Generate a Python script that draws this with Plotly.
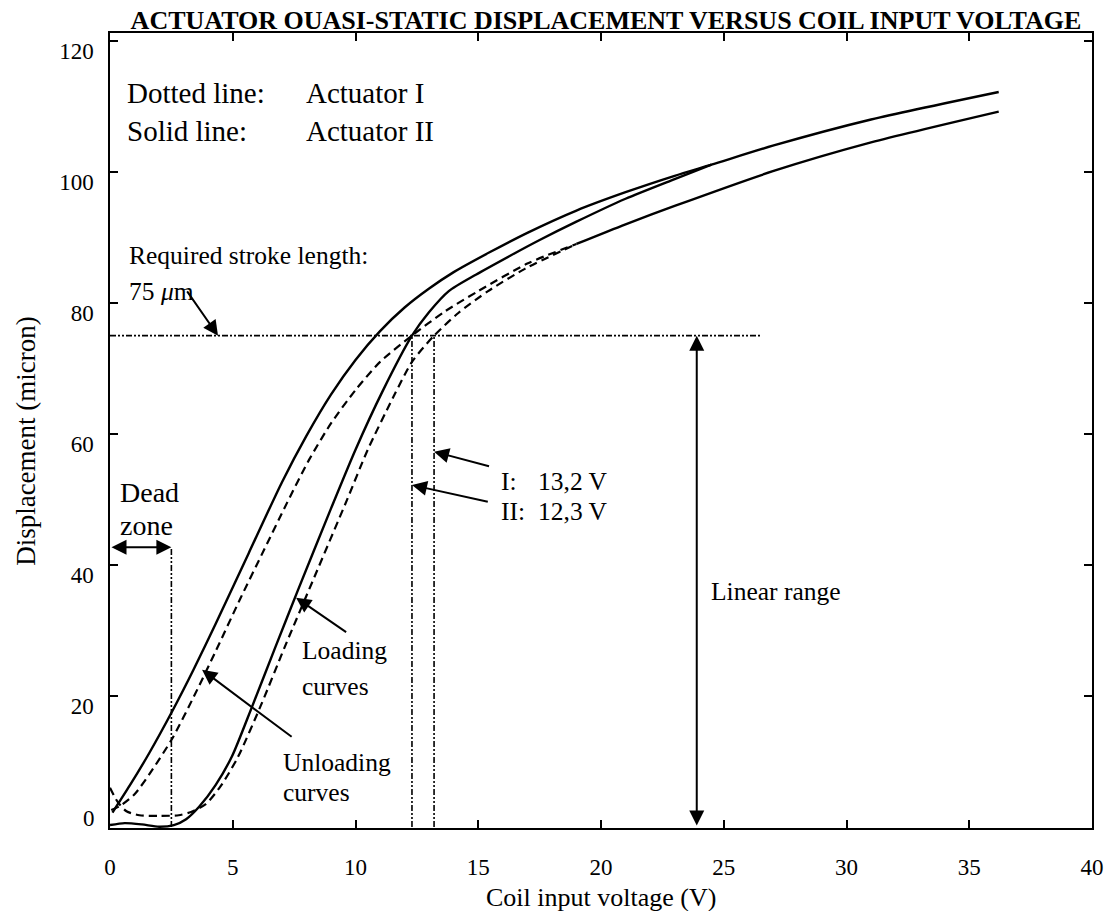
import plotly.graph_objects as go

# ---- measured hysteresis branches (coil voltage in V, displacement in micron) ----
# Actuator II (solid lines); both branches join at the start of the common part
act2_unload_v = [0.1, 0.8, 1.6, 2.54, 3.4, 4.3, 5.65, 7.0, 8.0, 9.0, 10.0, 11.0, 12.0, 13.0,
                 14.0, 15.5, 17.0, 19.0, 21.0, 23.0, 24.5]
act2_unload_d = [2.2, 6.3, 11.3, 17.7, 24.0, 31.0, 41.8, 52.6, 59.7, 66.0, 71.3, 75.7, 79.3, 82.2,
                 84.7, 87.8, 90.7, 94.1, 96.9, 99.4, 101.1]
act2_load_v = [0.0, 0.6, 1.3, 2.0, 2.6, 3.1, 3.63, 4.3, 4.97, 5.8, 6.72, 7.66, 9.0, 10.0, 11.1,
               12.3, 13.0, 13.8, 14.9, 16.3, 17.5, 19.0, 21.0, 23.0, 24.5]
act2_load_d = [0.3, 0.6, 0.4, 0.05, 0.3, 1.2, 3.1, 6.4, 10.8, 18.5, 27.3, 36.2, 48.6, 57.6, 66.5,
               75.0, 78.6, 81.8, 84.3, 87.2, 89.6, 92.4, 95.9, 98.9, 101.1]
act2_common_v = [24.5, 27.0, 31.0, 36.2]
act2_common_d = [101.1, 104.0, 108.0, 112.2]

# Actuator I (dotted lines)
act1_unload_v = [0.05, 0.4, 1.0, 1.7, 2.55, 3.4, 4.3, 5.3, 6.3, 7.2, 8.1, 9.0, 10.0, 11.0, 12.3,
                 13.6, 15.0, 17.0, 19.0]
act1_unload_d = [2.6, 3.2, 5.0, 8.6, 13.6, 19.8, 26.8, 34.8, 42.5, 49.4, 56.0, 61.6, 66.7, 71.0,
                 75.0, 78.6, 81.8, 86.0, 89.0]
act1_load_v = [0.0, 0.3, 0.67, 1.2, 2.0, 2.8, 3.3, 3.9, 4.5, 5.2, 6.15, 7.12, 8.33, 9.65, 10.5,
               11.55, 12.3, 13.2, 14.2, 15.4, 16.9, 19.0]
act1_load_d = [6.0, 3.9, 2.4, 1.8, 1.7, 1.8, 2.3, 3.5, 6.2, 10.6, 18.6, 27.5, 38.2, 49.9, 57.6,
               65.7, 71.0, 75.0, 78.5, 81.8, 85.2, 89.0]
act1_common_v = [19.0, 21.0, 23.0, 27.0, 31.0, 36.2]
act1_common_d = [89.0, 92.0, 94.8, 100.1, 104.5, 109.2]

# ---- reference values marked on the chart ----
stroke_um = 75
v_act1 = 13.2
v_act2 = 12.3
dead_zone_v = 2.5
linear_range_v = 23.9
stroke_line_end_v = 26.5

x_ticks = [0, 5, 10, 15, 20, 25, 30, 35, 40]
y_ticks = [0, 20, 40, 60, 80, 100, 120]

SERIF = "Liberation Serif, Times New Roman, serif"
BLACK = "#000000"
GUIDE_DASH = "6px,2px,2px,2px,2px,2px"
DASHED = "8px,5px"

fig = go.Figure()


def curve(v, d, dash):
    fig.add_trace(go.Scatter(
        x=v, y=d, mode="lines",
        line=dict(color=BLACK, width=2.4 if dash == "solid" else 2.2, dash=dash,
                  shape="spline", smoothing=0.7),
        hoverinfo="skip", showlegend=False,
    ))


# Actuator I: separate dashed branches, then the shared saturated part
curve(act1_unload_v, act1_unload_d, DASHED)
curve(act1_load_v, act1_load_d, DASHED)
curve(act1_common_v, act1_common_d, "solid")
# Actuator II: unloading branch runs on through the shared part
curve(act2_unload_v + act2_common_v[1:], act2_unload_d + act2_common_d[1:], "solid")
curve(act2_load_v, act2_load_d, "solid")


def guide(x, y):
    fig.add_trace(go.Scatter(
        x=x, y=y, mode="lines",
        line=dict(color=BLACK, width=1.6, dash=GUIDE_DASH),
        hoverinfo="skip", showlegend=False,
    ))


# required stroke and the voltages reaching it
guide([0, stroke_line_end_v], [stroke_um, stroke_um])
guide([v_act2, v_act2], [0, stroke_um])
guide([v_act1, v_act1], [0, stroke_um])
guide([dead_zone_v, dead_zone_v], [0, 42.7])

annotations = []


def text(x, y, s, size=25.5, anchor="left"):
    annotations.append(dict(
        x=x, y=y, xref="x", yref="y", text=s, showarrow=False,
        xanchor=anchor, yanchor="middle",
        font=dict(family=SERIF, size=size, color=BLACK),
    ))


def arrow(x, y, ax, ay, both=False):
    annotations.append(dict(
        x=x, y=y, ax=ax, ay=ay, xref="x", yref="y", axref="x", ayref="y",
        text="", showarrow=True, arrowhead=2, arrowsize=1.5, arrowwidth=2,
        arrowcolor=BLACK, arrowside="end+start" if both else "end",
        startarrowhead=2, startarrowsize=1.5, standoff=0, startstandoff=0,
    ))


text(0.6, 112.0, "Dotted line:", 29)
text(7.9, 112.0, "Actuator I", 29)
text(0.6, 106.3, "Solid line:", 29)
text(7.9, 106.3, "Actuator II", 29)

text(0.69, 87.2, "Required stroke length:")
text(0.69, 81.7, "75 <i>μ</i>m")
arrow(4.4, stroke_um, 3.1, 82.0)

text(0.32, 51.0, "Dead", 28)
text(0.32, 46.1, "zone", 28)
arrow(dead_zone_v, 42.7, 0.0, 42.7, both=True)

text(15.85, 52.7, "I:")
text(17.35, 52.7, "13,2 V")
text(15.85, 48.1, "II:")
text(17.35, 48.1, "12,3 V")
arrow(v_act1, 57.3, 15.5, 55.0)
arrow(v_act2, 52.2, 15.45, 49.6)

text(24.4, 35.9, "Linear range")
arrow(linear_range_v, stroke_um, linear_range_v, 0, both=True)

text(7.74, 27.0, "Loading")
text(7.74, 21.4, "curves")
arrow(7.58, 35.0, 9.68, 29.6)

text(6.98, 9.9, "Unloading")
text(6.98, 5.3, "curves")
arrow(3.75, 24.0, 7.46, 13.6)

PLOT_L, PLOT_R, PLOT_T, PLOT_B = 110, 1102, 33, 828
PW, PH = PLOT_R - PLOT_L, PLOT_B - PLOT_T


def paper_x(px):
    return (px - PLOT_L) / PW


def paper_y(py):
    return (PLOT_B - py) / PH


# zero of the displacement axis is printed just above the baseline
annotations.append(dict(
    x=paper_x(97), y=paper_y(818), xref="paper", yref="paper", text="0",
    showarrow=False, xanchor="right", yanchor="middle",
    font=dict(family=SERIF, size=23, color=BLACK),
))
# axis titles
annotations.append(dict(
    x=paper_x(606), y=paper_y(897), xref="paper", yref="paper",
    text="Coil input voltage (V)", showarrow=False,
    xanchor="center", yanchor="middle",
    font=dict(family=SERIF, size=26, color=BLACK),
))
annotations.append(dict(
    x=paper_x(25), y=paper_y(441), xref="paper", yref="paper",
    text="Displacement (micron)", showarrow=False, textangle=-90,
    xanchor="center", yanchor="middle",
    font=dict(family=SERIF, size=27, color=BLACK),
))

axis_common = dict(
    showline=True, linecolor=BLACK, linewidth=1.5, mirror="ticks",
    ticks="inside", ticklen=8, tickwidth=1.5, tickcolor=BLACK,
    showgrid=False, zeroline=False,
    tickfont=dict(family=SERIF, size=23, color=BLACK),
)

fig.update_layout(
    width=1116, height=911,
    margin=dict(l=PLOT_L, r=1116 - PLOT_R, t=PLOT_T, b=911 - PLOT_B),
    paper_bgcolor="white", plot_bgcolor="white",
    title=dict(
        text="<b>ACTUATOR OUASI-STATIC DISPLACEMENT VERSUS COIL INPUT VOLTAGE</b>",
        x=paper_x(611), xref="paper", xanchor="center",
        y=1 - 20 / 911, yref="container", yanchor="middle",
        font=dict(family=SERIF, size=26, color=BLACK),
    ),
    xaxis=dict(
        range=[0, 40], tickvals=x_ticks, ticktext=[str(t) for t in x_ticks],
        ticklabelstandoff=18,
        **axis_common,
    ),
    yaxis=dict(
        range=[-0.15, 121.2], tickvals=y_ticks,
        ticktext=["" if t == 0 else str(t) for t in y_ticks],
        ticklabelshift=10, ticklabelstandoff=10,
        **axis_common,
    ),
    annotations=annotations,
)

fig.write_html("out.html")
